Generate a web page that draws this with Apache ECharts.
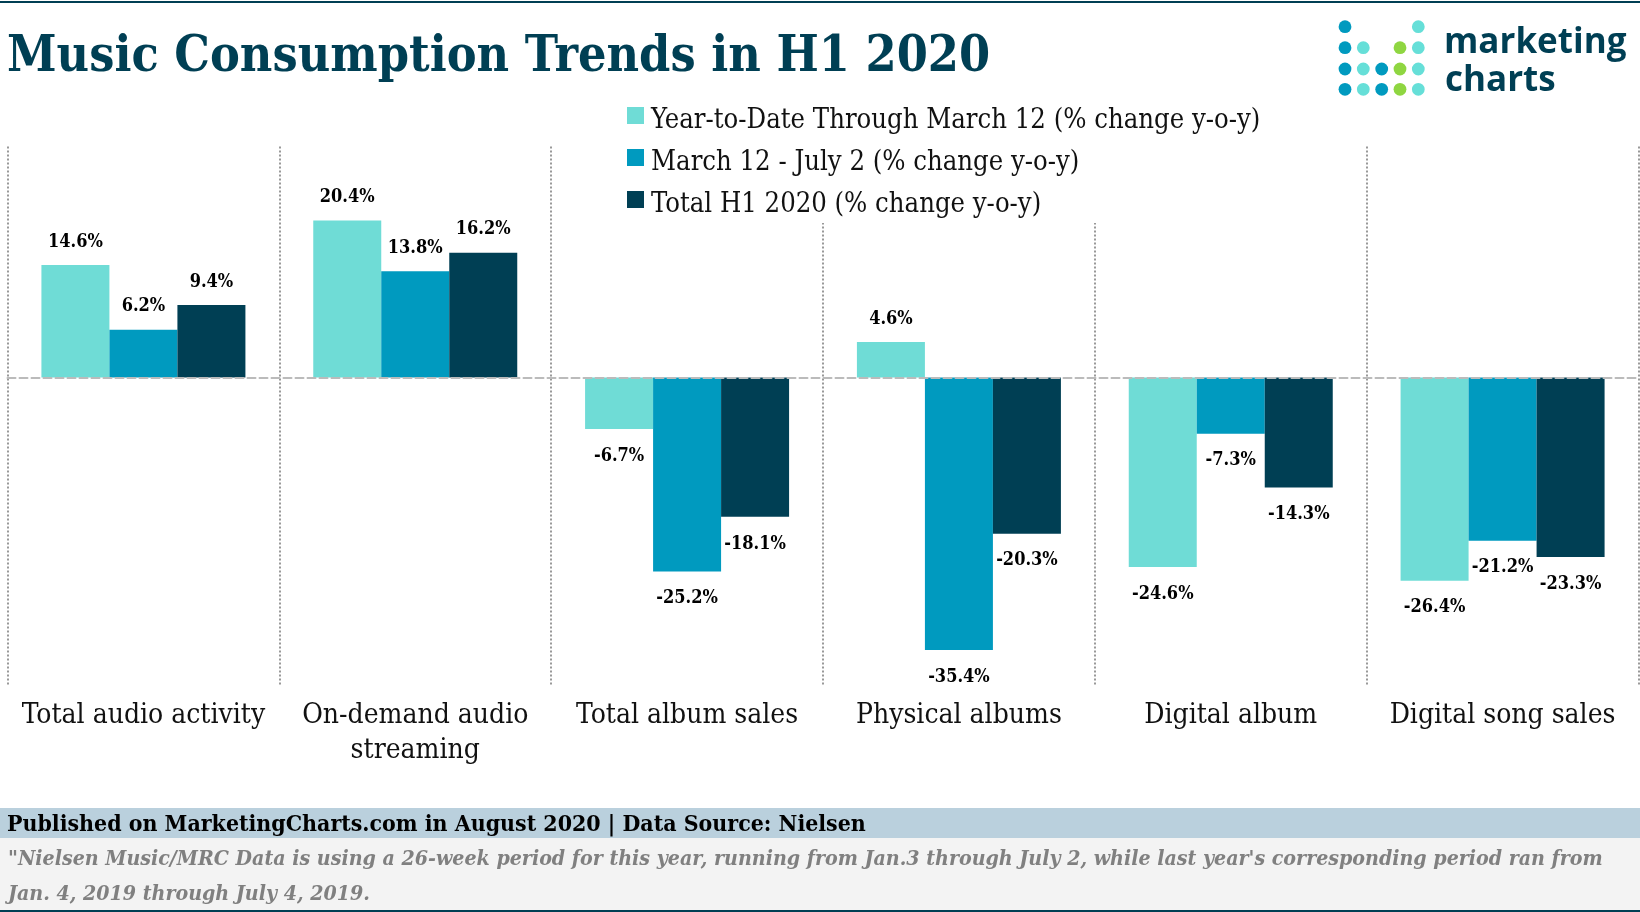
<!DOCTYPE html>
<html lang="en">
<head>
    <meta charset="UTF-8"/>
    <title>Music Consumption Trends in H1 2020</title>
    <script src="https://cdn.jsdelivr.net/npm/echarts@6/dist/echarts.min.js"></script>
    <style>
        html, body { margin: 0; padding: 0; background: #fff; }
        #main { width: 1640px; height: 912px; }
    </style>
</head>
<body>
<div id="main"></div>
<script>
    var categories = ['Total audio activity', 'On-demand audio\nstreaming', 'Total album sales', 'Physical albums', 'Digital album', 'Digital song sales'];
    var ytdMarch = [14.6, 20.4, -6.7, 4.6, -24.6, -26.4];
    var marchJuly = [6.2, 13.8, -25.2, -35.4, -7.3, -21.2];
    var totalH1 = [9.4, 16.2, -18.1, -20.3, -14.3, -23.3];
    var seriesNames = ['Year-to-Date Through March 12 (% change y-o-y)', 'March 12 - July 2 (% change y-o-y)', 'Total H1 2020 (% change y-o-y)'];
    var colors = ['#6fdcd6', '#009abf', '#003f54'];

    var serif = '"DejaVu Serif Condensed", "DejaVu Serif", serif';

    // logo dots, per column the rows that are filled
    var logoColumns = [[0, 1, 2, 3], [1, 2, 3], [2, 3], [1, 2, 3], [0, 1, 2, 3]];
    var logoColors = ['#009abf', '#66dfd8', '#009abf', '#8fd641', '#66dfd8'];
    var logoX = [1345, 1363.3, 1381.7, 1400, 1418.3];
    var logoY = [26.7, 47.7, 69, 89.3];

    var graphics = [
        { type: 'rect', shape: { x: 0, y: 1, width: 1640, height: 2 }, style: { fill: '#003f54' } },
        { type: 'rect', shape: { x: 0, y: 808, width: 1640, height: 30 }, style: { fill: '#bad0dd' } },
        { type: 'rect', shape: { x: 0, y: 838, width: 1640, height: 72 }, style: { fill: '#f3f3f3' } },
        { type: 'rect', shape: { x: 0, y: 910, width: 1640, height: 2 }, style: { fill: '#003f54' } },
        { type: 'text', x: 7, y: 33.5, style: { text: 'Music Consumption Trends in H1 2020', fill: '#003f54', font: 'bold 49.8px ' + serif } },
        { type: 'text', x: 7, y: 814, style: { text: 'Published on MarketingCharts.com in August 2020 | Data Source: Nielsen', fill: '#000', font: 'bold 22.9px ' + serif } },
        { type: 'text', x: 8, y: 849, style: { text: '"Nielsen Music/MRC Data is using a 26-week period for this year, running from Jan.3 through July 2, while last year\'s corresponding period ran from', fill: '#808080', font: 'italic bold 21.2px ' + serif } },
        { type: 'text', x: 8, y: 883.5, style: { text: 'Jan. 4, 2019 through July 4, 2019.', fill: '#808080', font: 'italic bold 21.2px ' + serif } },
        { type: 'text', x: 1444, y: 26, style: { text: 'marketing', fill: '#003f54', font: 'bold 35px "Open Sans"' } },
        { type: 'text', x: 1445, y: 64, style: { text: 'charts', fill: '#003f54', font: 'bold 35px "Open Sans"' } }
    ];
    logoColumns.forEach(function (rows, c) {
        rows.forEach(function (r) {
            graphics.push({ type: 'circle', shape: { cx: logoX[c], cy: logoY[r], r: 6.4 }, style: { fill: logoColors[c] } });
        });
    });

    function barSeries(idx, values) {
        return {
            name: seriesNames[idx],
            type: 'bar',
            // labels under the negative bars sit a little further away
            data: values.map(function (v) {
                return { value: v, label: { distance: v < 0 ? 18 : 14 } };
            }),
            barWidth: 68,
            barGap: 0,
            itemStyle: { color: colors[idx] },
            label: {
                show: true,
                position: 'outside',
                formatter: '{c}%',
                color: '#000',
                fontFamily: serif,
                fontWeight: 'bold',
                fontSize: 18
            }
        };
    }

    var myChart = echarts.init(document.getElementById('main'));
    var option = {
        animation: false,
        color: colors,
        graphic: graphics,
        legend: {
            orient: 'vertical',
            left: 620,
            top: 90,
            padding: [7, 10, 5, 7],
            backgroundColor: '#fff',
            itemWidth: 17,
            itemHeight: 17,
            itemGap: 5,
            icon: 'rect',
            selectedMode: false,
            data: seriesNames,
            formatter: '{t|{name}}',
            textStyle: {
                rich: {
                    // top padding pushes the text a bit below the swatch centre
                    t: { fontFamily: serif, fontSize: 27.2, color: '#111', lineHeight: 24, padding: [10, 0, 0, 2] }
                }
            }
        },
        grid: { left: 7.5, right: 1.5, top: 146.5, bottom: 226.5 },
        xAxis: [
            {
                type: 'category',
                data: categories,
                position: 'bottom',
                axisLine: { show: false, onZero: false },
                axisTick: { show: false },
                axisLabel: { interval: 0, margin: 13, color: '#111', fontFamily: serif, fontSize: 28, lineHeight: 35 },
                splitLine: { show: true, interval: 0, lineStyle: { color: '#999', type: 'dotted', width: 2 } }
            },
            {
                // dashed zero line, drawn above the bars
                type: 'category',
                data: categories,
                z: 3,
                axisLine: { show: true, onZero: true, lineStyle: { color: '#bbb', type: 'dashed', width: 2 } },
                axisTick: { show: false },
                axisLabel: { show: false },
                splitLine: { show: false }
            }
        ],
        yAxis: { type: 'value', min: -40, max: 30, interval: 10, show: false, splitLine: { show: false } },
        series: [barSeries(0, ytdMarch), barSeries(1, marchJuly), barSeries(2, totalH1)]
    };
    myChart.setOption(option);
</script>
</body>
</html>
